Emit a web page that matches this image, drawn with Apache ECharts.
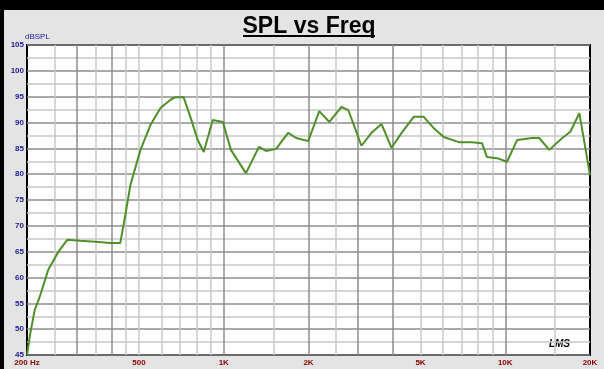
<!DOCTYPE html>
<html>
<head>
<meta charset="utf-8">
<script src="https://cdn.jsdelivr.net/npm/echarts@6/dist/echarts.min.js"></script>
<style>
  html, body { margin: 0; padding: 0; background: #000; }
  #chart { position: absolute; left: 4px; top: 10px; width: 600px; height: 359px; }
</style>
</head>
<body>
<div id="chart"></div>
<script>
// Measured response: frequency (Hz) and level (dB SPL)
const freqHz = [200, 205, 213, 223, 238, 258, 278, 309, 350, 396, 429, 447, 466, 506, 549, 596, 647, 675, 720, 763, 808, 849, 914, 993, 1060, 1199, 1334, 1413, 1534, 1693, 1808, 1995, 2184, 2372, 2617, 2771, 3084, 3348, 3635, 3945, 4284, 4727, 5132, 5572, 6048, 6840, 7612, 8266, 8610, 9346, 10146, 11016, 12462, 13200, 14332, 15946, 17026, 18334, 20000];
const splDb = [45.0, 48.9, 53.7, 56.6, 61.5, 64.9, 67.3, 67.1, 66.9, 66.7, 66.7, 72.1, 77.9, 84.7, 89.5, 92.8, 94.4, 94.9, 94.9, 90.9, 86.6, 84.3, 90.5, 90.1, 84.7, 80.2, 85.3, 84.5, 84.9, 88.0, 87.0, 86.4, 92.2, 90.1, 93.0, 92.4, 85.5, 88.0, 89.7, 85.1, 88.0, 91.1, 91.1, 88.9, 87.2, 86.2, 86.2, 86.0, 83.3, 83.1, 82.4, 86.6, 87.0, 87.0, 84.7, 87.0, 88.2, 91.8, 79.8];

// Frequency tick labels
const freqTicks = [200, 500, 1000, 2000, 5000, 10000, 20000];
const freqTickText = ['200 Hz', '500', '1K', '2K', '5K', '10K', '20K'];

// Vertical grid lines (heavy and light)
const gridHeavy = [300, 400, 1000, 2000, 3000, 4000, 10000];
const gridLight = [250, 350, 450, 500, 600, 700, 800, 900, 1500, 2500, 5000, 6000, 7000, 8000, 9000, 15000];

const chart = echarts.init(document.getElementById('chart'));

const vLine = (f, color) => ({ xAxis: f, lineStyle: { color: color, width: 1.5, type: 'solid' } });

chart.setOption({
  backgroundColor: '#e4e4e4',
  animation: false,
  graphic: [
    { type: 'text', x: 305, y: 5, style: { text: 'SPL vs Freq', textAlign: 'center', font: 'bold 23px Liberation Sans', fill: '#000' } },
    { type: 'line', shape: { x1: 239, y1: 26, x2: 371, y2: 26 }, style: { stroke: '#000', lineWidth: 2 } },
    { type: 'text', right: 34, bottom: 20, style: { text: 'LMS', font: 'italic bold 10px Liberation Sans', fill: '#000' } }
  ],
  grid: {
    left: 23, top: 35, right: 14, bottom: 14,
    show: true, backgroundColor: '#fff', borderColor: '#000', borderWidth: 2
  },
  xAxis: {
    type: 'log',
    logBase: 10,
    min: 200,
    max: 20000,
    axisLine: { show: false },
    axisTick: { show: false },
    splitLine: { show: false },
    axisLabel: {
      customValues: freqTicks,
      formatter: v => freqTickText[freqTicks.findIndex(t => Math.abs(t - v) < 1)] || '',
      color: '#8b0000', fontSize: 8, fontWeight: 'bold', fontFamily: 'Liberation Sans', margin: 4
    }
  },
  yAxis: {
    type: 'value',
    min: 45, max: 105, interval: 5,
    name: 'dBSPL',
    nameGap: 2,
    nameTextStyle: { color: '#1a1a9a', fontSize: 8, align: 'left', padding: [0, 0, 0, -2] },
    axisLine: { show: false },
    axisTick: { show: false },
    axisLabel: { color: '#1a1a9a', fontSize: 8, fontWeight: 'bold', fontFamily: 'Liberation Sans', margin: 3 },
    splitLine: { lineStyle: { color: '#8c8c8c', width: 1.5 } },
    minorTick: { show: false, splitNumber: 2 },
    minorSplitLine: { show: true, lineStyle: { color: '#c8c8c8', width: 1.5 } }
  },
  series: [{
    type: 'line',
    data: freqHz.map((f, i) => [f, splDb[i]]),
    showSymbol: false,
    lineStyle: { color: '#4f8f2a', width: 2 },
    markLine: {
      silent: true,
      symbol: 'none',
      label: { show: false },
      data: gridLight.map(f => vLine(f, '#c8c8c8')).concat(gridHeavy.map(f => vLine(f, '#8c8c8c')))
    },
    z: 5
  }]
});
</script>
</body>
</html>
